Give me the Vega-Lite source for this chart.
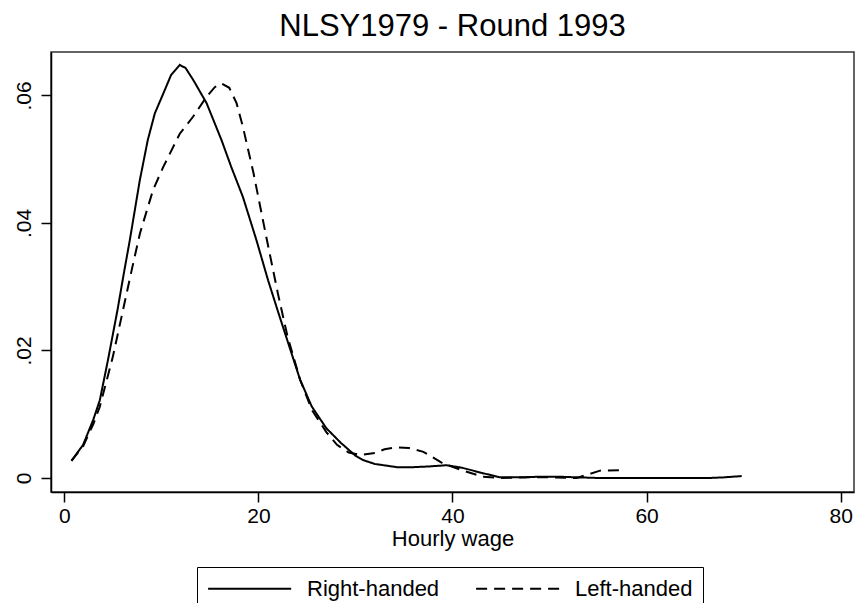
{
  "$schema": "https://vega.github.io/schema/vega-lite/v6.json",
  "width": 803,
  "height": 440,
  "autosize": {"type": "none"},
  "padding": {"left": 51, "top": 52, "right": 1, "bottom": 111},
  "background": "white",
  "config": {
    "font": "Liberation Sans",
    "view": {"stroke": "#333333", "strokeWidth": 1.5},
    "axis": {"grid": false, "domainColor": "black", "domainWidth": 1.5, "tickColor": "black", "tickWidth": 1.5, "tickSize": 10, "labelColor": "black", "titleColor": "black", "labelFont": "Liberation Sans", "titleFont": "Liberation Sans", "titleFontWeight": "normal"}
  },
  "title": {"text": "NLSY1979 - Round 1993", "fontSize": 31, "fontWeight": "normal", "font": "Liberation Sans", "color": "black", "anchor": "middle", "baseline": "bottom", "offset": 8, "dy": 30},
  "data": {"values": [
    {"group": "Right-handed", "wage": 0.74, "density": 0.0027},
    {"group": "Right-handed", "wage": 1.94, "density": 0.0052},
    {"group": "Right-handed", "wage": 3.0, "density": 0.0092},
    {"group": "Right-handed", "wage": 3.66, "density": 0.0122},
    {"group": "Right-handed", "wage": 4.5, "density": 0.0185},
    {"group": "Right-handed", "wage": 5.5, "density": 0.0265},
    {"group": "Right-handed", "wage": 6.1, "density": 0.0318},
    {"group": "Right-handed", "wage": 6.75, "density": 0.0373},
    {"group": "Right-handed", "wage": 7.78, "density": 0.0467},
    {"group": "Right-handed", "wage": 8.6, "density": 0.053},
    {"group": "Right-handed", "wage": 9.33, "density": 0.0572},
    {"group": "Right-handed", "wage": 10.2, "density": 0.0603},
    {"group": "Right-handed", "wage": 11.0, "density": 0.0632},
    {"group": "Right-handed", "wage": 11.9, "density": 0.0648},
    {"group": "Right-handed", "wage": 12.5, "density": 0.0643},
    {"group": "Right-handed", "wage": 13.3, "density": 0.0624},
    {"group": "Right-handed", "wage": 14.66, "density": 0.0588},
    {"group": "Right-handed", "wage": 16.2, "density": 0.053},
    {"group": "Right-handed", "wage": 17.2, "density": 0.0488},
    {"group": "Right-handed", "wage": 18.4, "density": 0.0441},
    {"group": "Right-handed", "wage": 19.8, "density": 0.0373},
    {"group": "Right-handed", "wage": 21.0, "density": 0.031},
    {"group": "Right-handed", "wage": 22.0, "density": 0.0262},
    {"group": "Right-handed", "wage": 23.0, "density": 0.0215},
    {"group": "Right-handed", "wage": 24.3, "density": 0.0154},
    {"group": "Right-handed", "wage": 25.5, "density": 0.0112},
    {"group": "Right-handed", "wage": 27.0, "density": 0.0078},
    {"group": "Right-handed", "wage": 28.5, "density": 0.0055},
    {"group": "Right-handed", "wage": 30.0, "density": 0.0035},
    {"group": "Right-handed", "wage": 30.8, "density": 0.0028},
    {"group": "Right-handed", "wage": 32.0, "density": 0.0022},
    {"group": "Right-handed", "wage": 34.25, "density": 0.0017},
    {"group": "Right-handed", "wage": 36.0, "density": 0.0017},
    {"group": "Right-handed", "wage": 37.5, "density": 0.0018},
    {"group": "Right-handed", "wage": 39.4, "density": 0.002},
    {"group": "Right-handed", "wage": 41.0, "density": 0.0016},
    {"group": "Right-handed", "wage": 43.0, "density": 0.0008},
    {"group": "Right-handed", "wage": 44.9, "density": 0.0001},
    {"group": "Right-handed", "wage": 47.0, "density": 0.0001},
    {"group": "Right-handed", "wage": 49.0, "density": 0.0002},
    {"group": "Right-handed", "wage": 51.0, "density": 0.0002},
    {"group": "Right-handed", "wage": 52.8, "density": 0.0001},
    {"group": "Right-handed", "wage": 55.0, "density": 0.0},
    {"group": "Right-handed", "wage": 60.0, "density": 0.0},
    {"group": "Right-handed", "wage": 66.5, "density": 0.0},
    {"group": "Right-handed", "wage": 68.0, "density": 0.0001},
    {"group": "Right-handed", "wage": 69.8, "density": 0.0003},
    {"group": "Left-handed", "wage": 0.74, "density": 0.0027},
    {"group": "Left-handed", "wage": 1.94, "density": 0.005},
    {"group": "Left-handed", "wage": 3.0, "density": 0.0085},
    {"group": "Left-handed", "wage": 3.66, "density": 0.0112},
    {"group": "Left-handed", "wage": 5.0, "density": 0.019},
    {"group": "Left-handed", "wage": 6.0, "density": 0.026},
    {"group": "Left-handed", "wage": 7.0, "density": 0.033},
    {"group": "Left-handed", "wage": 7.8, "density": 0.0384},
    {"group": "Left-handed", "wage": 9.15, "density": 0.0452},
    {"group": "Left-handed", "wage": 10.2, "density": 0.0488},
    {"group": "Left-handed", "wage": 11.9, "density": 0.054},
    {"group": "Left-handed", "wage": 13.28, "density": 0.0567},
    {"group": "Left-handed", "wage": 14.66, "density": 0.0598},
    {"group": "Left-handed", "wage": 15.5, "density": 0.0613},
    {"group": "Left-handed", "wage": 16.2, "density": 0.0619},
    {"group": "Left-handed", "wage": 17.0, "density": 0.0612},
    {"group": "Left-handed", "wage": 17.75, "density": 0.0588},
    {"group": "Left-handed", "wage": 18.4, "density": 0.0551},
    {"group": "Left-handed", "wage": 19.5, "density": 0.0478},
    {"group": "Left-handed", "wage": 20.8, "density": 0.0379},
    {"group": "Left-handed", "wage": 22.0, "density": 0.029},
    {"group": "Left-handed", "wage": 23.0, "density": 0.0222},
    {"group": "Left-handed", "wage": 24.3, "density": 0.0154},
    {"group": "Left-handed", "wage": 25.5, "density": 0.0107},
    {"group": "Left-handed", "wage": 27.0, "density": 0.0072},
    {"group": "Left-handed", "wage": 28.1, "density": 0.0052},
    {"group": "Left-handed", "wage": 29.3, "density": 0.004},
    {"group": "Left-handed", "wage": 30.5, "density": 0.0036},
    {"group": "Left-handed", "wage": 32.0, "density": 0.0039},
    {"group": "Left-handed", "wage": 33.0, "density": 0.0045},
    {"group": "Left-handed", "wage": 34.25, "density": 0.0048},
    {"group": "Left-handed", "wage": 35.5, "density": 0.0047},
    {"group": "Left-handed", "wage": 37.0, "density": 0.0041},
    {"group": "Left-handed", "wage": 39.0, "density": 0.0023},
    {"group": "Left-handed", "wage": 41.0, "density": 0.0012},
    {"group": "Left-handed", "wage": 43.1, "density": 0.0002},
    {"group": "Left-handed", "wage": 45.0, "density": 0.0},
    {"group": "Left-handed", "wage": 48.0, "density": 0.0001},
    {"group": "Left-handed", "wage": 50.0, "density": 0.0001},
    {"group": "Left-handed", "wage": 52.8, "density": 0.0},
    {"group": "Left-handed", "wage": 55.2, "density": 0.00115},
    {"group": "Left-handed", "wage": 57.6, "density": 0.00125}
  ]},
  "mark": {"type": "line", "color": "black", "strokeWidth": 2},
  "encoding": {
    "x": {"field": "wage", "type": "quantitative", "scale": {"domain": [-1.37, 81.37], "nice": false, "zero": false},
      "axis": {"values": [0, 20, 40, 60, 80], "labelFontSize": 21, "labelPadding": 3, "title": "Hourly wage", "titleFontSize": 22, "titlePadding": 2, "labelFlush": false}},
    "y": {"field": "density", "type": "quantitative", "scale": {"domain": [-0.0022, 0.06682], "nice": false, "zero": false},
      "axis": {"values": [0, 0.02, 0.04, 0.06], "labelFontSize": 21, "labelAngle": -90, "labelAlign": "center", "labelBaseline": "alphabetic", "labelPadding": 11, "title": null, "labelFlush": false,
        "labelExpr": "datum.value == 0 ? '0' : slice(format(datum.value, '.2f'), 1)"}},
    "strokeDash": {"field": "group", "type": "nominal",
      "scale": {"domain": ["Right-handed", "Left-handed"], "range": [[1, 0], [11, 7]]},
      "legend": {"title": null, "orient": "none", "legendX": 146, "legendY": 515, "direction": "horizontal", "columns": 2,
        "symbolType": "M-1,0L7,0", "symbolSize": 431, "symbolStrokeWidth": 2, "symbolStrokeColor": "black", "symbolFillColor": "transparent",
        "labelFontSize": 22, "labelColor": "black", "labelOffset": 77, "columnPadding": 32, "padding": 10,
        "strokeColor": "black", "fillColor": "white", "labelLimit": 300}}
  }
}
